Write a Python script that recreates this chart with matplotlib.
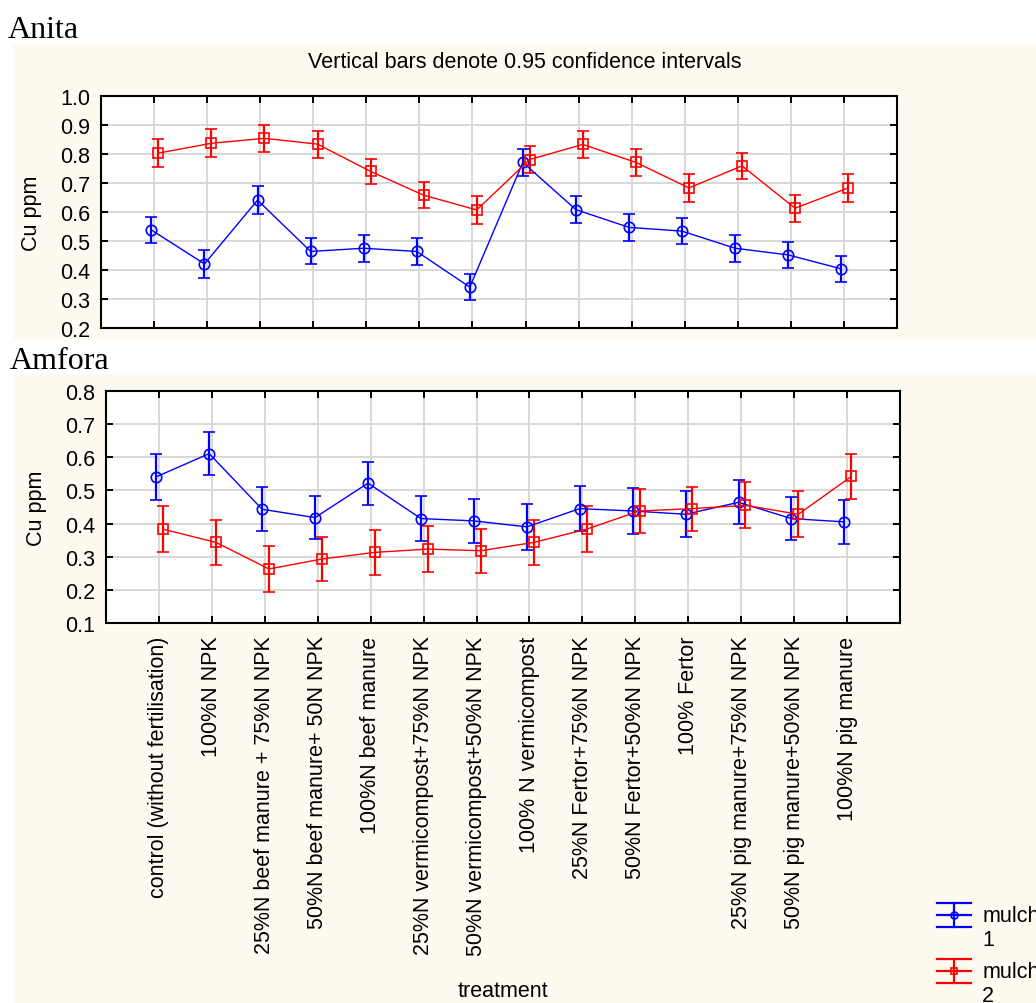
import numpy as np
import matplotlib
matplotlib.use('Agg')
import matplotlib.pyplot as plt
from matplotlib.patches import Rectangle
from matplotlib.lines import Line2D
from matplotlib.legend_handler import HandlerBase

# treatments (x axis categories)
treatments = ['control (without fertilisation)', '100%N NPK', '25%N beef manure + 75%N NPK',
              '50%N beef manure+ 50N NPK', '100%N beef manure', '25%N vermicompost+75%N NPK',
              '50%N vermicompost+50%N NPK', '100% N vermicompost', '25%N Fertor+75%N NPK',
              '50%N Fertor+50%N NPK', '100% Fertor', '25%N pig manure+75%N NPK',
              '50%N pig manure+50%N NPK', '100%N pig manure']

# Anita: means and 0.95 CI half widths
anita_m1 = [0.538, 0.421, 0.641, 0.464, 0.475, 0.464, 0.341, 0.771, 0.608, 0.547, 0.534, 0.475, 0.452, 0.404]
anita_ci1 = [0.044, 0.047, 0.048, 0.045, 0.047, 0.047, 0.046, 0.046, 0.046, 0.046, 0.046, 0.046, 0.046, 0.046]
anita_m2 = [0.803, 0.837, 0.854, 0.834, 0.740, 0.658, 0.607, 0.781, 0.833, 0.771, 0.683, 0.759, 0.613, 0.683]
anita_ci2 = [0.047, 0.048, 0.047, 0.047, 0.044, 0.045, 0.047, 0.045, 0.047, 0.047, 0.047, 0.046, 0.047, 0.047]

# Amfora: means and 0.95 CI half widths
amfora_m1 = [0.541, 0.611, 0.443, 0.418, 0.522, 0.415, 0.408, 0.390, 0.445, 0.438, 0.428, 0.464, 0.415, 0.405]
amfora_ci1 = [0.069, 0.066, 0.066, 0.066, 0.065, 0.069, 0.066, 0.069, 0.067, 0.069, 0.069, 0.066, 0.066, 0.066]
amfora_m2 = [0.383, 0.343, 0.263, 0.293, 0.313, 0.323, 0.318, 0.343, 0.383, 0.438, 0.445, 0.455, 0.428, 0.542]
amfora_ci2 = [0.069, 0.067, 0.069, 0.066, 0.067, 0.069, 0.066, 0.068, 0.069, 0.066, 0.066, 0.069, 0.069, 0.069]

series_labels = ['mulch\n1', 'mulch\n2']

BLUE = '#0000ff'
RED = '#ff0000'
CREAM = '#fffaf0'
FS = 15.5

plt.rcParams['font.family'] = ['Liberation Sans', 'DejaVu Sans']
plt.rcParams['font.size'] = FS


class HandlerCI(HandlerBase):
    """legend key like Statistica: wide caps, line and marker"""
    def __init__(self, color, marker):
        super().__init__()
        self.color = color
        self.marker = marker

    def create_artists(self, legend, orig_handle, xdescent, ydescent, width, height, fontsize, trans):
        # put the key next to the first line of the two line label
        yc = height / 2 - ydescent + fontsize * 0.6
        x0, x1 = -xdescent, -xdescent + width
        xm = (x0 + x1) / 2
        d = fontsize * 0.55
        arts = [Line2D([x0, x1], [yc + d, yc + d]), Line2D([x0, x1], [yc, yc]),
                Line2D([x0, x1], [yc - d, yc - d]), Line2D([xm, xm], [yc - d, yc + d])]
        for a in arts:
            a.set_color(self.color)
            a.set_linewidth(1.6)
        mk = Line2D([xm], [yc], marker=self.marker, markersize=5, markerfacecolor='none',
                    markeredgecolor=self.color, markeredgewidth=1.2, linestyle='none')
        arts.append(mk)
        for a in arts:
            a.set_transform(trans)
        return arts


def draw_panel(ax, m1, ci1, m2, ci2, ymin, ymax):
    x = np.arange(1, len(treatments) + 1)
    h1 = ax.errorbar(x - 0.05, m1, yerr=ci1, color=BLUE, linewidth=1.0, elinewidth=1.6,
                     capsize=4, capthick=1.4, marker='o', markersize=7.5, markerfacecolor='none',
                     markeredgewidth=1.2, zorder=3)
    h2 = ax.errorbar(x + 0.08, m2, yerr=ci2, color=RED, linewidth=1.0, elinewidth=1.6,
                     capsize=4, capthick=1.4, marker='s', markersize=7.5, markerfacecolor='none',
                     markeredgewidth=1.2, zorder=3)
    ax.set_xlim(0, len(treatments) + 1)
    ax.set_ylim(ymin, ymax)
    ax.set_xticks(x)
    ax.set_yticks(np.round(np.arange(ymin, ymax + 0.001, 0.1), 1))
    ax.yaxis.set_major_formatter(plt.FormatStrFormatter('%.1f'))
    ax.grid(True, color='#d8d8d8', linewidth=1.4)
    ax.set_axisbelow(True)
    ax.tick_params(direction='in', length=5, width=1.4, top=True, right=True, labelsize=FS, pad=8)
    for s in ax.spines.values():
        s.set_linewidth(1.5)
    ax.set_ylabel('Cu ppm', fontsize=FS)
    ax.yaxis.set_label_coords(-0.074, 0.5)
    return h1, h2


fig = plt.figure(figsize=(10.36, 10.04), dpi=100)
fig.patch.set_facecolor('white')

# cream panel backgrounds (behind the axes)
fig.patches.append(Rectangle((13 / 1036, 1 - 340 / 1004), 1 - 13 / 1036, 295 / 1004,
                             transform=fig.transFigure, facecolor=CREAM, edgecolor='none', zorder=-5))
fig.patches.append(Rectangle((13 / 1036, 0), 1 - 13 / 1036, 1 - 376 / 1004,
                             transform=fig.transFigure, facecolor=CREAM, edgecolor='none', zorder=-5))

fig.text(8 / 1036, 1 - 38 / 1004, 'Anita', family='Liberation Serif', fontsize=23, va='baseline')
fig.text(10 / 1036, 1 - 369 / 1004, 'Amfora', family='Liberation Serif', fontsize=23, va='baseline')
fig.text(524.5 / 1036, 1 - 63 / 1004, 'Vertical bars denote 0.95 confidence intervals',
         ha='center', va='center', fontsize=FS)

ax1 = fig.add_axes([0.0975, 0.6723, 0.7683, 0.2311])
draw_panel(ax1, anita_m1, anita_ci1, anita_m2, anita_ci2, 0.2, 1.0)
ax1.set_xticklabels([])

ax2 = fig.add_axes([0.1023, 0.3785, 0.7664, 0.2311])
h1, h2 = draw_panel(ax2, amfora_m1, amfora_ci1, amfora_m2, amfora_ci2, 0.1, 0.8)
ax2.set_xticklabels(treatments, rotation=90, va='top', ha='center', fontsize=FS)
ax2.tick_params(axis='x', pad=9)
ax2.set_xlabel('treatment', fontsize=FS)
ax2.xaxis.set_label_coords(0.5, -1.54)

fig.legend([h1, h2], series_labels, loc='upper left', bbox_to_anchor=(937 / 1036, 1 - 906 / 1004),
           frameon=False, borderpad=0, borderaxespad=0, handlelength=1.6, handletextpad=0.5,
           labelspacing=0.5, fontsize=FS,
           handler_map={h1: HandlerCI(BLUE, 'o'), h2: HandlerCI(RED, 's')})

fig.savefig('out.png', dpi=100)
